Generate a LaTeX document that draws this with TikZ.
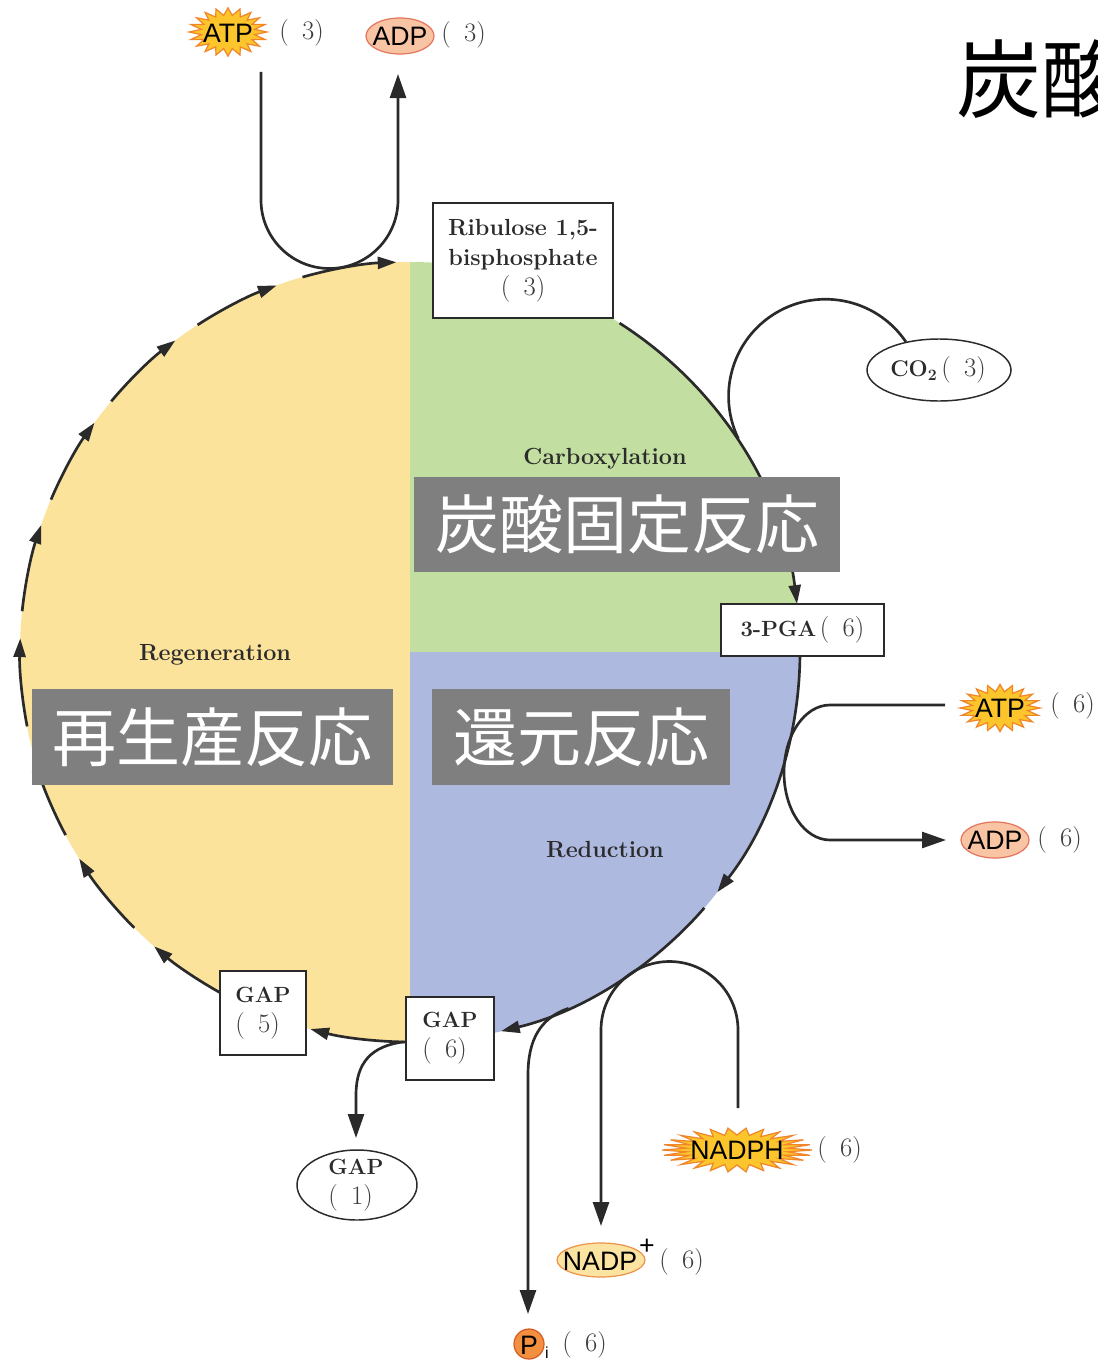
\documentclass[tikz,border=0pt]{standalone}
\usepackage{fontspec}
\newfontfamily\cjkfont{Noto Sans CJK JP}
\newfontfamily\atpfont{Liberation Sans}
\usetikzlibrary{arrows.meta,shapes.geometric,calc}
\definecolor{yel}{HTML}{FCE39C}
\definecolor{grn}{HTML}{C2DEA0}
\definecolor{blu}{HTML}{AEB9E0}
\definecolor{ink}{HTML}{2A2A2A}
\definecolor{txt}{HTML}{2B2B2B}
\definecolor{numtxt}{HTML}{3C3C3C}
\definecolor{boxgray}{HTML}{7F7F7F}
\definecolor{burstfill}{HTML}{FBC52B}
\definecolor{burstedge}{HTML}{F0852A}
\definecolor{adpfill}{HTML}{F9C4A4}
\definecolor{adpedge}{HTML}{E4745C}
\definecolor{nadpfill}{HTML}{FBE3A2}
\definecolor{nadpedge}{HTML}{EE9348}
\definecolor{pfill}{HTML}{F39040}
\definecolor{pedge}{HTML}{D35A26}
\newcommand\drawburst[6]{% cx cy rx ry amp n
  \fill[burstfill, draw=burstedge, line width=0.9pt]
    plot[samples=#6*2+1, domain=0:360, variable=\t]
    ({#1+#3*(1+#5*cos(#6*\t))*cos(\t)}, {#2+#4*(1+#5*cos(#6*\t))*sin(\t)}) -- cycle;}
\newcommand\cnt[1]{{\color{numtxt}\fontsize{20}{22.5}\selectfont(\enspace#1)}}
\tikzset{
  flow/.style={draw=ink, line width=2pt, -{Triangle[length=18pt,width=12pt]}},
  plainline/.style={draw=ink, line width=2pt},
  cyc/.style={draw=ink, line width=2pt, -{Triangle[length=14pt,width=9pt]}},
  lbl/.style={text=txt, font=\fontsize{17.5}{20}\selectfont\bfseries, inner sep=0pt},
  numlbl/.style={inner sep=0pt, anchor=west},
  boxnode/.style={draw=ink, line width=1.1pt, fill=white, text=txt, inner sep=0pt,
    font=\fontsize{16.5}{22.5}\selectfont},
  plaintext/.style={text=txt, inner sep=0pt, font=\fontsize{16.5}{22.5}\selectfont},
  ellline/.style={draw=ink, line width=1.1pt, fill=white},
  graybox/.style={fill=boxgray, text=white, inner sep=0pt, font=\cjkfont\fontsize{48}{50}\selectfont},
  chem/.style={text=black, inner sep=0pt, font=\atpfont\fontsize{20}{22}\selectfont},
}
\begin{document}
\begin{tikzpicture}[x=0.75pt,y=-0.75pt]
\path[use as bounding box] (0,0) rectangle (1097,1363);
\clip (0,0) rectangle (1097,1363);
\fill[white] (0,0) rectangle (1097,1363);
\coordinate (c) at (410,652);
% quadrants
\fill[yel] (c) -- ++(270:390) arc[start angle=270,end angle=90,radius=390] -- cycle;
\fill[grn] (c) -- ++(270:390) arc[start angle=270,end angle=360,radius=390] -- cycle;
\fill[blu] (c) -- ++(0:390) arc[start angle=0,end angle=90,radius=390] -- cycle;
% cycle arrows
\foreach \a/\b in {119/131,135/148,152/165,169/182,186/199,203/216,220/233,237/250,254/268}
  \draw[cyc] ($(c)+(\a:390)$) arc[start angle=\a,end angle=\b,radius=390];
\draw[cyc] ($(c)+(302.5:390)$) arc[start angle=302.5,end angle=352.9,radius=390];
\draw[cyc] ($(c)+(0.6:390)$) arc[start angle=0.6,end angle=38,radius=390];
\draw[cyc] ($(c)+(41:390)$) arc[start angle=41,end angle=76.5,radius=390];
\draw[cyc] ($(c)+(90.6:390)$) arc[start angle=90.6,end angle=104.8,radius=390];
% section labels
\node[lbl] (carb) at (605,459) {Carboxylation};
\node[lbl] (regen) at (215,655) {Regeneration};
\node[lbl] (redu) at (605,850) {Reduction};
% gray boxes
\node[graybox, minimum width=319.5pt, minimum height=71.25pt] (fix) at (627,524.5) {炭酸固定反応};
\node[graybox, minimum width=223.5pt, minimum height=72pt] (red) at (581,737) {還元反応};
\node[graybox, minimum width=270.75pt, minimum height=72pt] (reg) at (212.5,737) {再生産反応};
% title
\node[anchor=west, inner sep=0pt, font=\cjkfont\fontsize{64}{66}\selectfont] (title) at (956,79) {炭酸};
% top ATP / ADP
\drawburst{228}{32}{33}{20.5}{0.18}{20}
\node[chem] (atpA) at (228,33) {ATP};
\node[numlbl] (atpAn) at (279,33) {\cnt{3}};
\path[fill=adpfill, draw=adpedge, line width=0.9pt] (400,36) ellipse[x radius=34, y radius=18];
\node[chem] (adpA) at (400,36) {ADP};
\node[numlbl] (adpAn) at (441,35) {\cnt{3}};
\coordinate (atpAout) at (261,72);
\coordinate (adpAin) at (398,74);
\draw[flow] (atpAout) -- (261,200) arc[start angle=180,end angle=0,radius=68.5] -- (adpAin);
% Ribulose box
\node[boxnode, minimum width=135pt, minimum height=86.25pt, align=center, font=\fontsize{17.5}{22.5}\selectfont] (rubp) at (523,260.5)
  {\textbf{Ribulose 1,5-}\\\textbf{bisphosphate}\\\cnt{3}};
% CO2
\path[ellline] (939,370) ellipse[x radius=72, y radius=31];
\node[plaintext, font=\fontsize{17}{20}\selectfont] (co2) at (938,370) {\textbf{CO\textsubscript{2}}\,\cnt{3}};
\coordinate (co2out) at (906,342);
\draw[plainline] (co2out) arc[start angle=326,end angle=154,radius=97];
% 3-PGA
\node[boxnode, minimum width=122.25pt, minimum height=39pt, font=\fontsize{16.5}{20}\selectfont] (pga) at (802.5,630) {\textbf{3-PGA}\,\cnt{6}};
% right ATP / ADP
\drawburst{1000}{708}{34}{20}{0.18}{20}
\node[chem] (atpB) at (1000,708) {ATP};
\node[numlbl] (atpBn) at (1050,706) {\cnt{6}};
\path[fill=adpfill, draw=adpedge, line width=0.9pt] (995,840) ellipse[x radius=34, y radius=18];
\node[chem] (adpB) at (995,840) {ADP};
\node[numlbl] (adpBn) at (1037,840) {\cnt{6}};
\coordinate (atpBin) at (945,705);
\coordinate (adpBout) at (946,840);
\draw[flow] (atpBin) -- (830,705) arc[start angle=270,end angle=90,x radius=46,y radius=67.5] -- (adpBout);
% NADPH / NADP+
\drawburst{737}{1150}{63}{18.5}{0.19}{26}
\node[chem] (nadph) at (737,1150) {NADPH};
\node[numlbl] (nadphn) at (817,1150) {\cnt{6}};
\path[fill=nadpfill, draw=nadpedge, line width=0.9pt] (601,1260) ellipse[x radius=44, y radius=17];
\node[chem] (nadp) at (600,1261) {NADP};
\node[chem] (nadpplus) at (647,1247) {+};
\node[numlbl] (nadpn) at (659,1262) {\cnt{6}};
\coordinate (nadphout) at (738,1108);
\coordinate (nadpin) at (601,1226);
\draw[flow] (nadphout) -- (738,1030) arc[start angle=0,end angle=-180,radius=68.5] -- (nadpin);
% Pi
\node[circle, fill=pfill, draw=pedge, line width=0.9pt, minimum size=22.5pt, inner sep=0pt] (pcirc) at (529,1344) {};
\node[chem] (pletter) at (529,1345) {P};
\node[text=black, inner sep=0pt, font=\atpfont\fontsize{12}{12}\selectfont] (psub) at (547,1353) {i};
\node[numlbl] (pn) at (562,1345) {\cnt{6}};
\coordinate (piin) at (528,1314);
\draw[flow] ($(c)+(66:390)$) .. controls (540,1018) and (528,1040) .. (528,1075) -- (piin);
% GAP branch
\path[ellline] (357,1185) ellipse[x radius=60, y radius=35];
\node[plaintext, align=left] (gap1) at (356,1185) {\textbf{GAP}\\\cnt{1}};
\coordinate (gap1in) at (356,1138);
\draw[flow] ($(c)+(91:390)$) .. controls (372,1046) and (356,1062) .. (356,1095) -- (gap1in);
% GAP boxes
\node[boxnode, minimum width=64.5pt, minimum height=63pt, align=left] (gap5) at (263,1013) {\textbf{GAP}\\\cnt{5}};
\node[boxnode, minimum width=66pt, minimum height=62.25pt, align=left] (gap6) at (450,1038.5) {\textbf{GAP}\\\cnt{6}};
\end{tikzpicture}
\end{document}
